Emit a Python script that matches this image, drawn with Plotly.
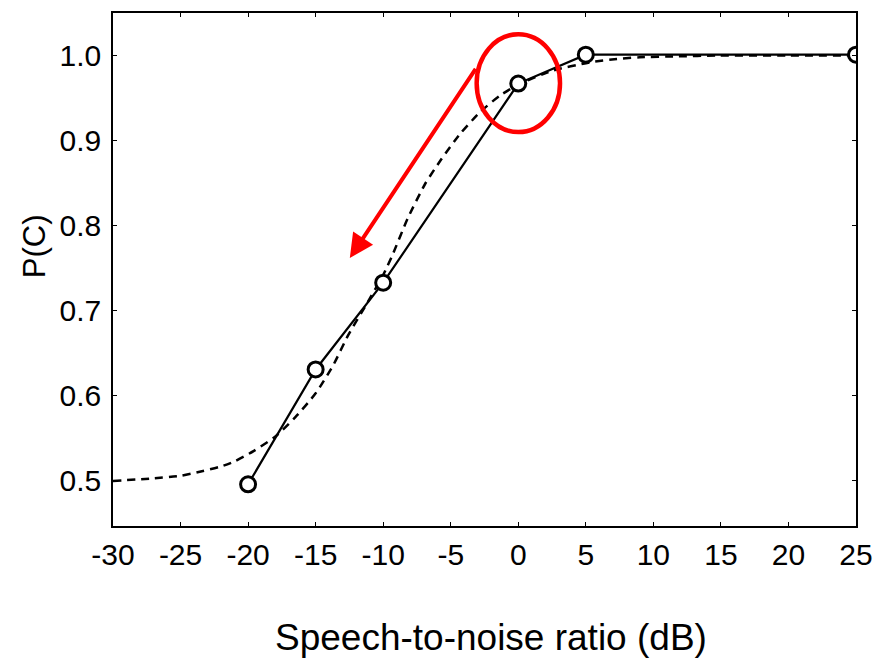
import plotly.graph_objects as go

# Measured data (solid line with open markers)
snr_db = [-20, -15, -10, 0, 5, 25]
p_correct = [0.496, 0.631, 0.733, 0.967, 1.001, 1.001]

# Fitted psychometric curve (dashed)
fit_snr = [-30, -27, -25, -23.5, -22, -21, -19.6, -18, -16.5, -15, -13.7, -12.6,
           -11.3, -10, -9.3, -8.2, -6.9, -5.7, -4.3, -2.8, -1.35, 0, 2.5, 5.3,
           7.3, 9, 11.7, 14.7, 20, 25]
fit_p = [0.500, 0.503, 0.506, 0.511, 0.517, 0.523, 0.535, 0.552, 0.575, 0.603,
         0.636, 0.671, 0.706, 0.742, 0.766, 0.808, 0.849, 0.878, 0.908, 0.934,
         0.953, 0.966, 0.982, 0.992, 0.996, 0.998, 0.999, 1.000, 1.000, 1.000]

x_ticks = [-30, -25, -20, -15, -10, -5, 0, 5, 10, 15, 20, 25]
y_ticks = [0.5, 0.6, 0.7, 0.8, 0.9, 1.0]
y_tick_labels = ["0.5", "0.6", "0.7", "0.8", "0.9", "1.0"]

FONT = "Liberation Sans, Arial, sans-serif"

fig = go.Figure()
fig.add_trace(go.Scatter(
    x=fit_snr, y=fit_p, mode="lines",
    line=dict(color="black", width=2.5, dash="8px,6px", shape="spline", smoothing=0.6),
    hoverinfo="skip", showlegend=False))
fig.add_trace(go.Scatter(
    x=snr_db, y=p_correct, mode="lines+markers",
    line=dict(color="black", width=2.2),
    marker=dict(symbol="circle", size=15, color="white",
                line=dict(color="black", width=3)),
    showlegend=False))

# red highlight circle
fig.add_shape(type="circle", xref="x", yref="y",
              x0=-3.08, x1=3.09, y0=0.910, y1=1.025,
              line=dict(color="#ff0000", width=4.5))

# red arrow
fig.add_annotation(x=-12.47, y=0.762, ax=-3.08, ay=0.986,
                   xref="x", yref="y", axref="x", ayref="y",
                   text="", showarrow=True, arrowhead=2, arrowsize=1.2,
                   arrowwidth=4, arrowcolor="#ff0000", standoff=0)

# axis titles
fig.add_annotation(text="Speech-to-noise ratio (dB)", xref="paper", yref="paper",
                   x=0.5087, y=-0.2175, xanchor="center", yanchor="middle",
                   showarrow=False, font=dict(family=FONT, size=37, color="black"))
fig.add_annotation(text="P(C)", xref="paper", yref="paper",
                   x=-0.1063, y=0.5456, xanchor="center", yanchor="middle",
                   textangle=-90, showarrow=False,
                   font=dict(family=FONT, size=31, color="black"))

axis_common = dict(showgrid=False, zeroline=False, showline=True,
                   linecolor="black", linewidth=1.5, mirror="ticks",
                   ticks="inside", ticklen=4, tickwidth=1, tickcolor="black",
                   tickfont=dict(family=FONT, size=30, color="black"))

fig.update_xaxes(range=[-30, 25], tickvals=x_ticks,
                 ticktext=[str(v) for v in x_ticks], ticklabelstandoff=1,
                 **axis_common)
fig.update_yaxes(range=[0.447, 1.05], tickvals=y_ticks, ticktext=y_tick_labels,
                 ticklabelstandoff=4, **axis_common)

fig.update_layout(width=891, height=660,
                  margin=dict(l=113, r=35, t=11, b=134),
                  paper_bgcolor="white", plot_bgcolor="white",
                  font=dict(family=FONT, color="black"))

fig.write_html("out.html")
